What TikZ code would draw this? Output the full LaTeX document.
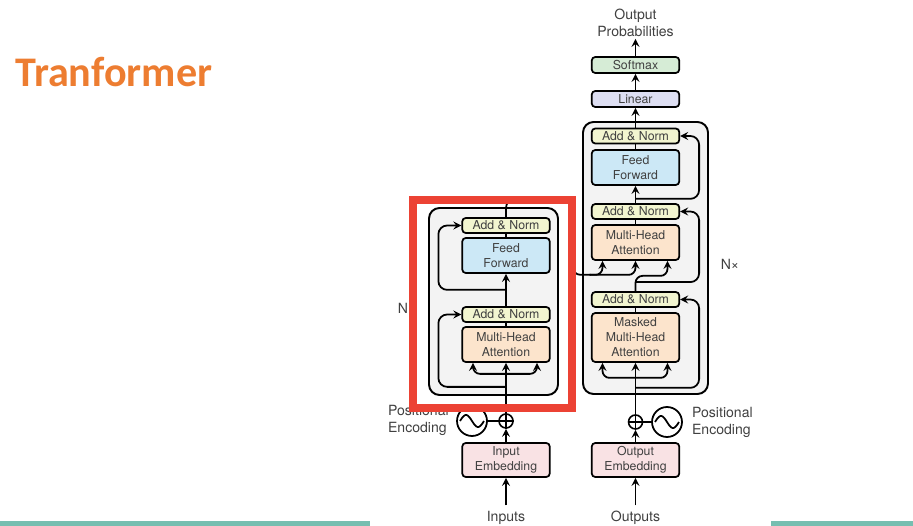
\documentclass[tikz,border=0pt]{standalone}
\usepackage{fontspec}
\setmainfont{TeX Gyre Heros}
\newfontfamily\titlefont{Carlito}
\usetikzlibrary{calc}
\tikzset{>=stealth}
\definecolor{txtgray}{RGB}{64,64,64}
\definecolor{titleorange}{RGB}{237,125,49}
\definecolor{barteal}{RGB}{118,190,176}
\definecolor{framered}{RGB}{236,66,52}
\definecolor{stackgray}{RGB}{243,243,243}
\definecolor{anfill}{RGB}{242,245,208}
\definecolor{fffill}{RGB}{204,232,246}
\definecolor{attfill}{RGB}{252,228,204}
\definecolor{embfill}{RGB}{249,226,228}
\definecolor{linfill}{RGB}{221,222,242}
\definecolor{smfill}{RGB}{214,236,214}
\tikzset{
  block/.style={draw, line width=1pt, rounded corners=2pt, minimum width=1.75cm,
    inner sep=0pt, align=center, text=txtgray, font=\fontsize{7}{8.5}\selectfont},
  addnorm/.style={block, fill=anfill, minimum height=0.3cm},
  ffwd/.style={block, fill=fffill, minimum height=0.7cm},
  attn/.style={block, fill=attfill, minimum height=0.7cm},
  embed/.style={block, fill=embfill, minimum height=0.68cm},
  lbl/.style={text=txtgray, font=\fontsize{8}{9.6}\selectfont, inner sep=1pt},
  conn/.style={line width=1pt},
  arr/.style={conn, ->},
  stack/.style={draw, line width=1.1pt, fill=stackgray, rounded corners=6pt},
  addsign/.style={draw, circle, line width=0.9pt, minimum size=0.28cm, inner sep=0pt},
  wave/.style={draw, circle, line width=1pt, minimum size=0.6cm, inner sep=0pt}
}

\begin{document}
\begin{tikzpicture}[x=0.02cm, y=-0.02cm]
    \useasboundingbox (0,0) rectangle (913,526);
    \fill[barteal] (0,521) rectangle (370,526);
    \fill[barteal] (771,521) rectangle (913,526);
    \node[anchor=base west, inner sep=0, text=titleorange, font=\titlefont\fontsize{24}{28}\selectfont\bfseries] (title) at (15,87) {Tranformer};

    \draw[stack] (429,208) rectangle (558,395);
    \draw[stack] (583,122) rectangle (708,394);

    % encoder
    \node[addnorm] (an1) at (506,225.5) {Add \& Norm};
    \node[ffwd] (ff1) at (506,255.5) {Feed\\Forward};
    \node[addnorm] (an2) at (506,314.5) {Add \& Norm};
    \node[attn] (mha1) at (506,344.5) {Multi-Head\\Attention};
    \node[embed] (emb1) at (506,460) {Input\\Embedding};
    \node[addsign] (plus1) at (506,421) {};
    \node[wave] (sine1) at (472,421) {};
    \node[lbl, anchor=north] (inputs) at (506,509) {Inputs};
    \node[lbl, align=left, anchor=west] (pe1) at (386,420) {Positional\\Encoding};
    \node[lbl] (nenc) at (407,308) {N×};

    % decoder
    \node[block, fill=smfill, minimum height=0.32cm] (softmax) at (635.5,65) {Softmax};
    \node[block, fill=linfill, minimum height=0.32cm] (linear) at (635.5,99) {Linear};
    \node[addnorm] (an3) at (635.5,136) {Add \& Norm};
    \node[ffwd] (ff2) at (635.5,167.5) {Feed\\Forward};
    \node[addnorm] (an4) at (635.5,211.5) {Add \& Norm};
    \node[attn] (mha2) at (635.5,242.5) {Multi-Head\\Attention};
    \node[addnorm] (an5) at (635.5,299.5) {Add \& Norm};
    \node[attn, minimum height=0.98cm] (mmha) at (635.5,337.5) {Masked\\Multi-Head\\Attention};
    \node[embed] (emb2) at (635.5,460) {Output\\Embedding};
    \node[addsign] (plus2) at (635.5,422) {};
    \node[wave] (sine2) at (667,422) {};
    \node[lbl, anchor=north] (outputs) at (635.5,509) {Outputs};
    \node[lbl, align=left, anchor=west] (pe2) at (690,422) {Positional\\Encoding};
    \node[lbl] (ndec) at (730,264) {N×};
    \node[lbl, align=center] (outprob) at (635.5,23) {Output\\Probabilities};

    \foreach \p in {plus1,plus2}
    \draw[line width=0.9pt] (\p.north) -- (\p.south) (\p.west) -- (\p.east);
    \foreach \s in {sine1,sine2}
    \draw[conn, shift={(\s.center)}] plot[domain=-1:1, samples=30, smooth] ({12*\x}, {6*sin(180*\x)});

    % encoder connectors
    \draw[arr, shorten <=2pt] (inputs) -- (emb1);
    \draw[arr] (emb1) -- (plus1);
    \draw[conn] (sine1) -- (plus1);
    \draw[arr] (plus1) -- (mha1);
    \draw[arr, rounded corners=4pt] ($(mha1.south)+(0,11)$) -| ($(mha1.south)+(-33,0)$);
    \draw[arr, rounded corners=4pt] ($(mha1.south)+(0,11)$) -| ($(mha1.south)+(31,0)$);
    \draw[arr, rounded corners=5pt] ($(mha1.south)+(0,24)$) -| ($(an2.west)+(-23,0)$) -- (an2.west);
    \draw[conn] (mha1) -- (an2);
    \draw[arr] (an2) -- (ff1);
    \draw[arr, rounded corners=5pt] ($(ff1.south)+(0,16)$) -| ($(an1.west)+(-23,0)$) -- (an1.west);
    \draw[conn] (ff1) -- (an1);
    \coordinate (encturn) at (572,199);
    \draw[conn, rounded corners=5pt] (an1.north) |- (encturn) |- ($(mha2.south)+(-45,14)$);
    \draw[arr, rounded corners=4pt] ($(mha2.south)+(-46,14)$) -| ($(mha2.south)+(-33,0)$);
    \draw[arr, rounded corners=4pt] ($(mha2.south)+(-46,14)$) -| (mha2.south);

    % decoder connectors
    \draw[arr, shorten <=2pt] (outputs) -- (emb2);
    \draw[arr] (emb2) -- (plus2);
    \draw[conn] (sine2) -- (plus2);
    \draw[arr] (plus2) -- (mmha);
    \draw[arr, rounded corners=4pt] ($(mmha.south)+(0,15)$) -| ($(mmha.south)+(-33,0)$);
    \draw[arr, rounded corners=4pt] ($(mmha.south)+(0,15)$) -| ($(mmha.south)+(32,0)$);
    \draw[arr, rounded corners=5pt] ($(mmha.south)+(0,25)$) -| ($(an5.east)+(19,0)$) -- (an5.east);
    \draw[conn] (mmha) -- (an5);
    \draw[arr, rounded corners=4pt] (an5.north) |- ($(mha2.south)+(18,15)$) -| ($(mha2.south)+(32,0)$);
    \draw[arr, rounded corners=5pt] ($(an5.north)+(0,-9)$) -| ($(an4.east)+(19,0)$) -- (an4.east);
    \draw[conn] (mha2) -- (an4);
    \draw[arr] (an4) -- (ff2);
    \draw[arr, rounded corners=5pt] ($(ff2.south)+(0,13)$) -| ($(an3.east)+(19,0)$) -- (an3.east);
    \draw[conn] (ff2) -- (an3);
    \draw[arr] (an3) -- (linear);
    \draw[arr] (linear) -- (softmax);
    \draw[arr] (softmax) -- (outprob);

    \draw[framered, line width=4pt] (413,200) rectangle (572,408);
\end{tikzpicture}
\end{document}
